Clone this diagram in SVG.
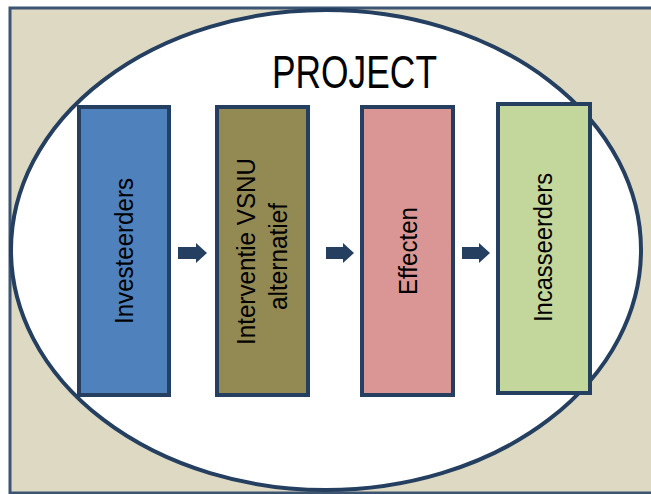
<svg xmlns="http://www.w3.org/2000/svg" width="651" height="494" viewBox="0 0 651 494">
<style>
.box{stroke:#243F60;stroke-width:4}
.lbl{font-family:"Liberation Sans",Arial,sans-serif;font-size:25px;fill:#000;text-anchor:middle}
.arr{fill:#243F60}
</style>
<rect width="651" height="494" fill="#ffffff"/>
<g id="frame">
<rect x="10" y="8" width="660" height="485" fill="#DDD9C3" stroke="#3E5572" stroke-width="3"/>
</g>
<g id="project">
<ellipse cx="326" cy="250" rx="315" ry="240" fill="#ffffff" stroke="#243F60" stroke-width="4"/>
<text x="354.5" y="88" font-family="Liberation Sans,Arial,sans-serif" font-size="47" text-anchor="middle" textLength="165" lengthAdjust="spacingAndGlyphs">PROJECT</text>
</g>
<g id="investeerders">
<rect class="box" x="79" y="107" width="90" height="288" fill="#4F81BD"/>
<text class="lbl" transform="translate(133,251) rotate(-90)" textLength="146" lengthAdjust="spacingAndGlyphs">Investeerders</text>
</g>
<g id="interventie">
<rect class="box" x="217" y="107" width="91" height="288" fill="#938953"/>
<text class="lbl" transform="translate(255,251.5) rotate(-90)" textLength="187" lengthAdjust="spacingAndGlyphs">Interventie VSNU</text>
<text class="lbl" transform="translate(287,256.5) rotate(-90)" textLength="107" lengthAdjust="spacingAndGlyphs">alternatief</text>
</g>
<g id="effecten">
<rect class="box" x="362" y="107" width="91" height="288" fill="#D99694"/>
<text class="lbl" transform="translate(417,251) rotate(-90)" textLength="88" lengthAdjust="spacingAndGlyphs">Effecten</text>
</g>
<g id="incasseerders">
<rect class="box" x="498" y="104" width="92" height="289" fill="#C3D69B"/>
<text class="lbl" transform="translate(552,247.5) rotate(-90)" textLength="149" lengthAdjust="spacingAndGlyphs">Incasseerders</text>
</g>
<g id="connectors">
<polygon class="arr" points="178,247 196,247 196,243 207,253 196,263 196,259 178,259"/>
<polygon class="arr" points="326,247 343,247 343,243 354,253 343,263 343,259 326,259"/>
<polygon class="arr" points="462,247 479,247 479,243 490,253 479,263 479,259 462,259"/>
</g>
</svg>
